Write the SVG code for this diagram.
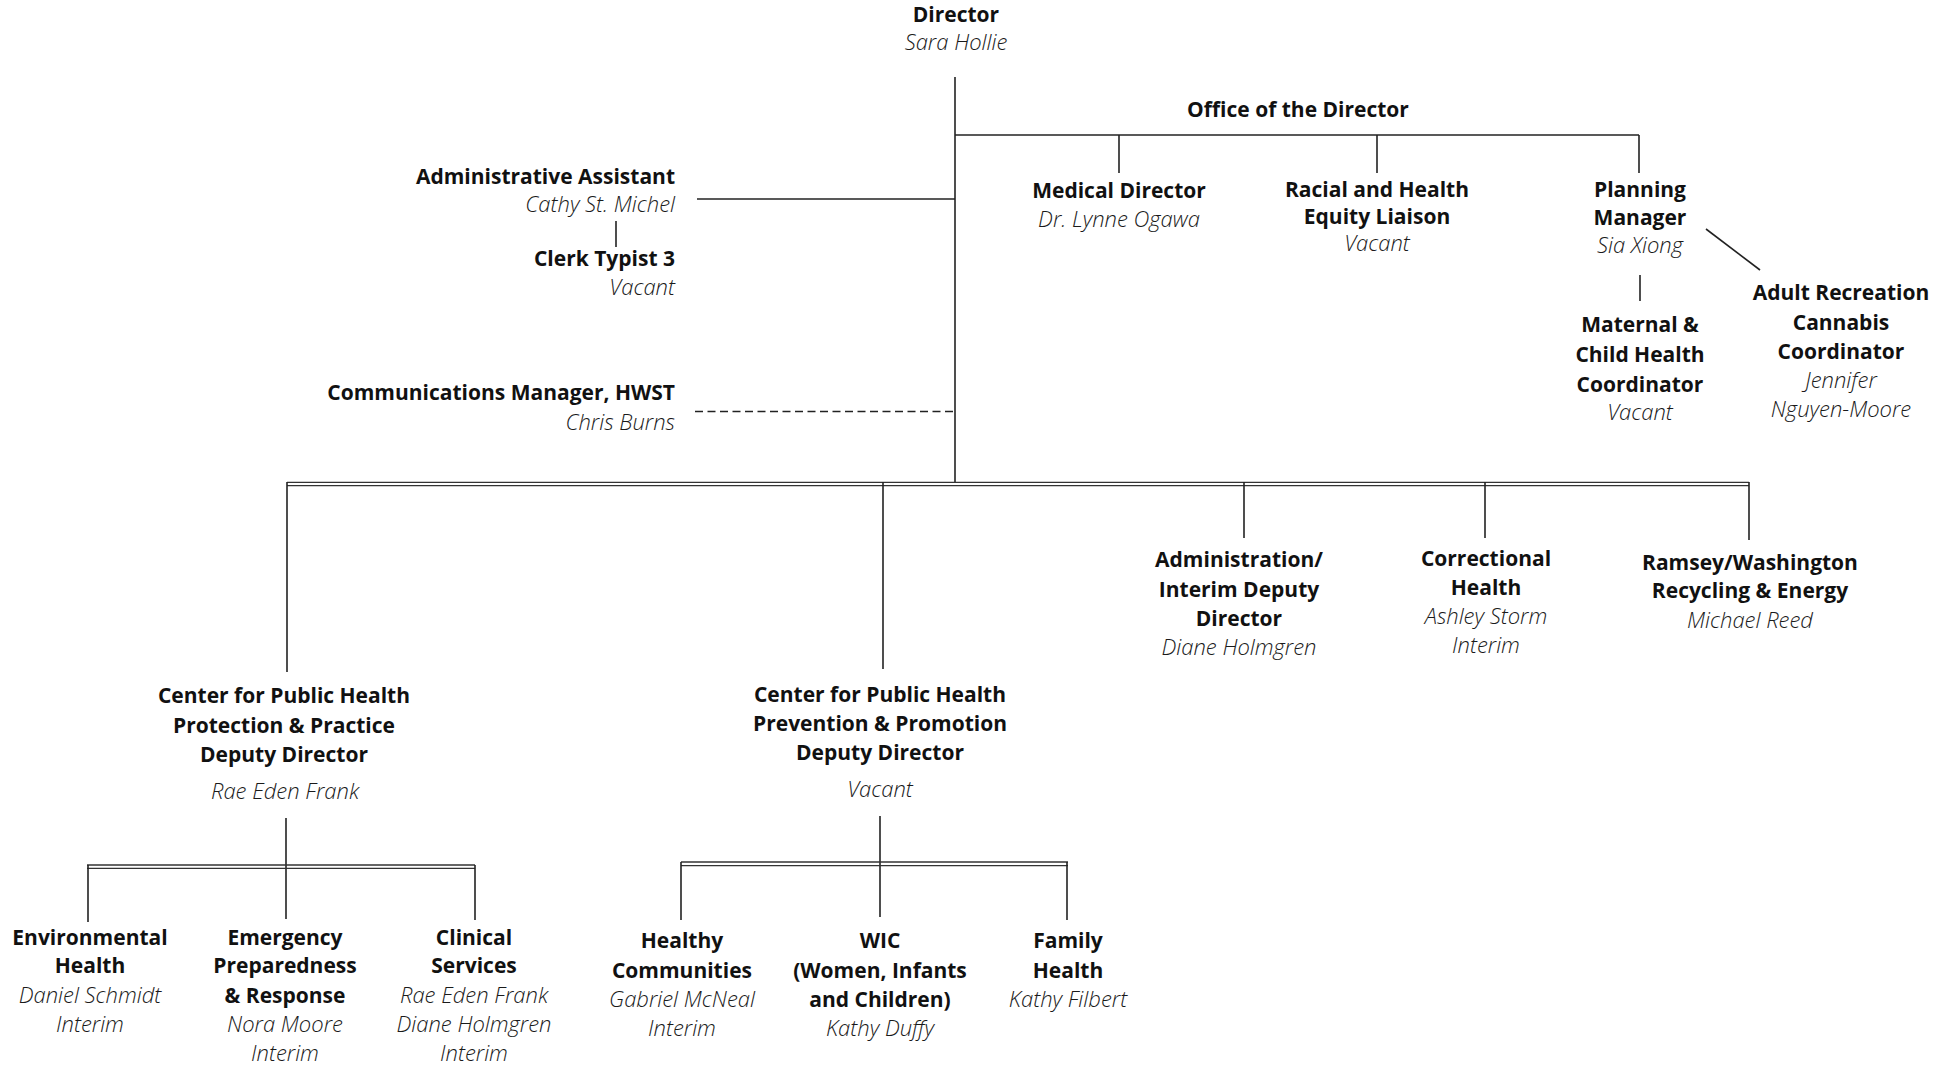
<svg xmlns="http://www.w3.org/2000/svg" width="1952" height="1065" viewBox="0 0 1952 1065">
<style>
text{font-family:"Open Sans","Noto Sans","Liberation Sans",sans-serif;fill:#111}
.t{font-weight:700;font-size:21px}
.n{font-style:italic;font-weight:300;font-size:22px;fill:#1a1a1a}
.c{text-anchor:middle}
.r{text-anchor:end}
.ln{stroke:#222;stroke-width:1.6;fill:none}
.dl{stroke:#333;stroke-width:1.3;fill:none}
.ds{stroke:#222;stroke-width:1.6;fill:none;stroke-dasharray:8 4.5}
</style>
<rect width="1952" height="1065" fill="#fff"/>
<g id="connectors">
<line class="ln" x1="955" y1="77" x2="955" y2="482"/>
<line class="ln" x1="955" y1="135" x2="1639" y2="135"/>
<line class="ln" x1="1119" y1="135" x2="1119" y2="173"/>
<line class="ln" x1="1377" y1="135" x2="1377" y2="173"/>
<line class="ln" x1="1639" y1="135" x2="1639" y2="173"/>
<line class="ln" x1="697" y1="199" x2="955" y2="199"/>
<line class="ln" x1="616" y1="221" x2="616" y2="247"/>
<line class="ds" x1="695" y1="411.5" x2="955" y2="411.5"/>
<line class="ln" x1="1640" y1="275" x2="1640" y2="301"/>
<line class="ln" x1="1706" y1="229" x2="1760" y2="270"/>
<line class="dl" x1="287" y1="482.3" x2="1749" y2="482.3"/>
<line class="dl" x1="287" y1="485.6" x2="1749" y2="485.6"/>
<line class="ln" x1="287" y1="482" x2="287" y2="672"/>
<line class="ln" x1="883" y1="482" x2="883" y2="669"/>
<line class="ln" x1="1244" y1="482" x2="1244" y2="538"/>
<line class="ln" x1="1485" y1="482" x2="1485" y2="538"/>
<line class="ln" x1="1749" y1="482" x2="1749" y2="540"/>
<line class="ln" x1="286" y1="818" x2="286" y2="919"/>
<line class="dl" x1="87" y1="865" x2="475" y2="865"/>
<line class="dl" x1="87" y1="868.4" x2="475" y2="868.4"/>
<line class="ln" x1="88" y1="865" x2="88" y2="922"/>
<line class="ln" x1="475" y1="865" x2="475" y2="920"/>
<line class="ln" x1="880" y1="816" x2="880" y2="917"/>
<line class="dl" x1="681" y1="862" x2="1068" y2="862"/>
<line class="dl" x1="681" y1="865.6" x2="1068" y2="865.6"/>
<line class="ln" x1="681" y1="862" x2="681" y2="920"/>
<line class="ln" x1="1067" y1="862" x2="1067" y2="920"/>
</g>
<g id="director"><text class="t c" x="956" y="22">Director</text><text class="n c" x="956" y="50">Sara Hollie</text></g>
<g id="admin-assistant"><text class="t r" x="675" y="184">Administrative Assistant</text><text class="n r" x="675" y="212">Cathy St. Michel</text></g>
<g id="clerk-typist"><text class="t r" x="675" y="266">Clerk Typist 3</text><text class="n r" x="675" y="295">Vacant</text></g>
<g id="communications"><text class="t r" x="675" y="400">Communications Manager, HWST</text><text class="n r" x="675" y="430">Chris Burns</text></g>
<g id="office"><text class="t c" x="1298" y="117">Office of the Director</text></g>
<g id="medical"><text class="t c" x="1119" y="198">Medical Director</text><text class="n c" x="1119" y="227">Dr. Lynne Ogawa</text></g>
<g id="racial"><text class="t c" x="1377" y="197">Racial and Health</text><text class="t c" x="1377" y="224">Equity Liaison</text><text class="n c" x="1377" y="251">Vacant</text></g>
<g id="planning"><text class="t c" x="1640" y="197">Planning</text><text class="t c" x="1640" y="225">Manager</text><text class="n c" x="1640" y="253">Sia Xiong</text></g>
<g id="maternal"><text class="t c" x="1640" y="332">Maternal &amp;</text><text class="t c" x="1640" y="362">Child Health</text><text class="t c" x="1640" y="392">Coordinator</text><text class="n c" x="1640" y="420">Vacant</text></g>
<g id="adult-rec"><text class="t c" x="1841" y="300">Adult Recreation</text><text class="t c" x="1841" y="330">Cannabis</text><text class="t c" x="1841" y="359">Coordinator</text><text class="n c" x="1841" y="388">Jennifer</text><text class="n c" x="1841" y="417">Nguyen-Moore</text></g>
<g id="protection"><text class="t c" x="284" y="703">Center for Public Health</text><text class="t c" x="284" y="733">Protection &amp; Practice</text><text class="t c" x="284" y="762">Deputy Director</text><text class="n c" x="285" y="799">Rae Eden Frank</text></g>
<g id="prevention"><text class="t c" x="880" y="702">Center for Public Health</text><text class="t c" x="880" y="731">Prevention &amp; Promotion</text><text class="t c" x="880" y="760">Deputy Director</text><text class="n c" x="880" y="797">Vacant</text></g>
<g id="administration"><text class="t c" x="1239" y="567">Administration/</text><text class="t c" x="1239" y="597">Interim Deputy</text><text class="t c" x="1239" y="626">Director</text><text class="n c" x="1239" y="655">Diane Holmgren</text></g>
<g id="correctional"><text class="t c" x="1486" y="566">Correctional</text><text class="t c" x="1486" y="595">Health</text><text class="n c" x="1486" y="624">Ashley Storm</text><text class="n c" x="1486" y="653">Interim</text></g>
<g id="ramsey"><text class="t c" x="1750" y="570">Ramsey/Washington</text><text class="t c" x="1750" y="598">Recycling &amp; Energy</text><text class="n c" x="1750" y="628">Michael Reed</text></g>
<g id="environmental"><text class="t c" x="90" y="945">Environmental</text><text class="t c" x="90" y="973">Health</text><text class="n c" x="90" y="1003">Daniel Schmidt</text><text class="n c" x="90" y="1032">Interim</text></g>
<g id="emergency"><text class="t c" x="285" y="945">Emergency</text><text class="t c" x="285" y="973">Preparedness</text><text class="t c" x="285" y="1003">&amp; Response</text><text class="n c" x="285" y="1032">Nora Moore</text><text class="n c" x="285" y="1061">Interim</text></g>
<g id="clinical"><text class="t c" x="474" y="945">Clinical</text><text class="t c" x="474" y="973">Services</text><text class="n c" x="474" y="1003">Rae Eden Frank</text><text class="n c" x="474" y="1032">Diane Holmgren</text><text class="n c" x="474" y="1061">Interim</text></g>
<g id="healthy"><text class="t c" x="682" y="948">Healthy</text><text class="t c" x="682" y="978">Communities</text><text class="n c" x="682" y="1007">Gabriel McNeal</text><text class="n c" x="682" y="1036">Interim</text></g>
<g id="wic"><text class="t c" x="880" y="948">WIC</text><text class="t c" x="880" y="978">(Women, Infants</text><text class="t c" x="880" y="1007">and Children)</text><text class="n c" x="880" y="1036">Kathy Duffy</text></g>
<g id="family"><text class="t c" x="1068" y="948">Family</text><text class="t c" x="1068" y="978">Health</text><text class="n c" x="1068" y="1007">Kathy Filbert</text></g>
</svg>
